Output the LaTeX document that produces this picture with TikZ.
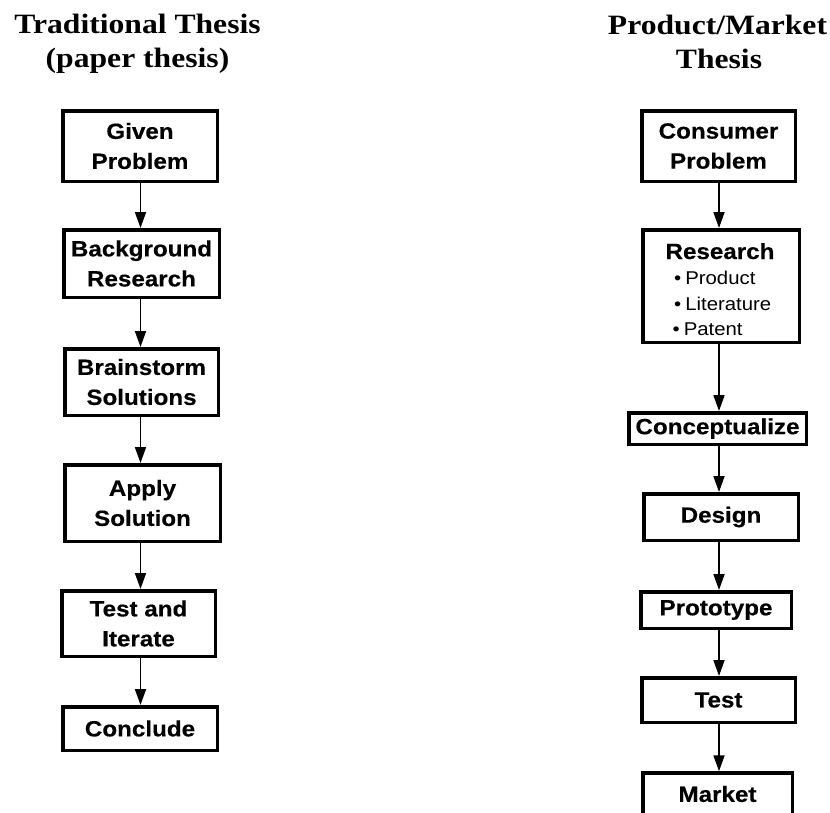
\documentclass[tikz,border=0pt]{standalone}
\usepackage{fontspec}
\usetikzlibrary{arrows.meta}
\newfontfamily\titlefamily[FakeStretch=1.13]{Liberation Serif}
\newfontfamily\boxfamily[FakeStretch=1.1,BoldFeatures={FakeBold=0.4}]{Liberation Sans}
\newcommand{\titlefnt}{\titlefamily\bfseries\fontsize{28}{34}\selectfont}
\newcommand{\boxfnt}{\boxfamily\bfseries\fontsize{22}{30}\selectfont}
\newcommand{\itemfnt}{\boxfamily\fontsize{18.5}{25}\selectfont}
\tikzset{
  stepbox/.style={draw, line width=3.5pt, inner sep=0pt, align=center, font=\boxfnt},
  arr/.style={line width=1.8pt, -{Triangle[length=16pt, width=11pt]}},
  ttl/.style={anchor=base, inner sep=0pt, font=\titlefnt},
  itm/.style={anchor=base west, inner sep=0pt, font=\itemfnt}
}
\begin{document}
\begin{tikzpicture}[x=1pt, y=-1pt]
\useasboundingbox (0,0) rectangle (830,812);
% titles
\node[ttl] (tl1) at (137.5,33) {Traditional Thesis};
\node[ttl] (tl2) at (137.5,67) {(paper thesis)};
\node[ttl] (tr1) at (717.5,34) {Product/Market};
\node[ttl] (tr2) at (719,68) {Thesis};
% column axes
\coordinate (colL) at (140.5,0);
\coordinate (colR) at (719,0);
% left column
\node[stepbox, minimum width=154.5pt, minimum height=70.5pt] (l1) at (140,146) {Given\\Problem};
\node[stepbox, minimum width=155.5pt, minimum height=67.5pt] (l2) at (141.5,263.5) {Background\\Research};
\node[stepbox, minimum width=153.5pt, minimum height=66.5pt] (l3) at (141.5,382) {Brainstorm\\Solutions};
\node[stepbox, minimum width=155.5pt, minimum height=76.5pt] (l4) at (142.5,503) {Apply\\Solution};
\node[stepbox, minimum width=153.5pt, minimum height=65.5pt] (l5) at (138.5,623.5) {Test and\\Iterate};
\node[stepbox, minimum width=154.5pt, minimum height=43.5pt] (l6) at (140,728.5) {Conclude};
% right column
\node[stepbox, minimum width=153.5pt, minimum height=70.5pt] (r1) at (718.5,146) {Consumer\\Problem};
\node[stepbox, minimum width=156.5pt, minimum height=112.5pt] (r2) at (721,286) {};
\node[anchor=base, inner sep=0pt, font=\boxfnt] (r2t) at (720,259) {Research};
\node[itm] (r2a) at (674,284) {\textbullet\hspace{4pt}Product};
\node[itm] (r2b) at (674,310) {\textbullet\hspace{4pt}Literature};
\node[itm] (r2c) at (672.5,335) {\textbullet\hspace{4pt}Patent};
\node[stepbox, minimum width=177.5pt, minimum height=31.5pt] (r3) at (717.5,428.5) {Conceptualize};
\node[stepbox, minimum width=154.5pt, minimum height=46.5pt] (r4) at (721,517) {Design};
\node[stepbox, minimum width=150.5pt, minimum height=36.5pt] (r5) at (716,610) {Prototype};
\node[stepbox, minimum width=153.5pt, minimum height=44.5pt] (r6) at (718.5,700) {Test};
\node[stepbox, minimum width=149.5pt, minimum height=42pt] (r7) at (717.5,794) {Market};
% arrows
\foreach \a/\b in {l1/l2,l2/l3,l3/l4,l4/l5,l5/l6}
  \draw[arr] (colL |- \a.south) -- (colL |- \b.north);
\foreach \a/\b in {r1/r2,r2/r3,r3/r4,r4/r5,r5/r6,r6/r7}
  \draw[arr] (colR |- \a.south) -- (colR |- \b.north);
\end{tikzpicture}
\end{document}
